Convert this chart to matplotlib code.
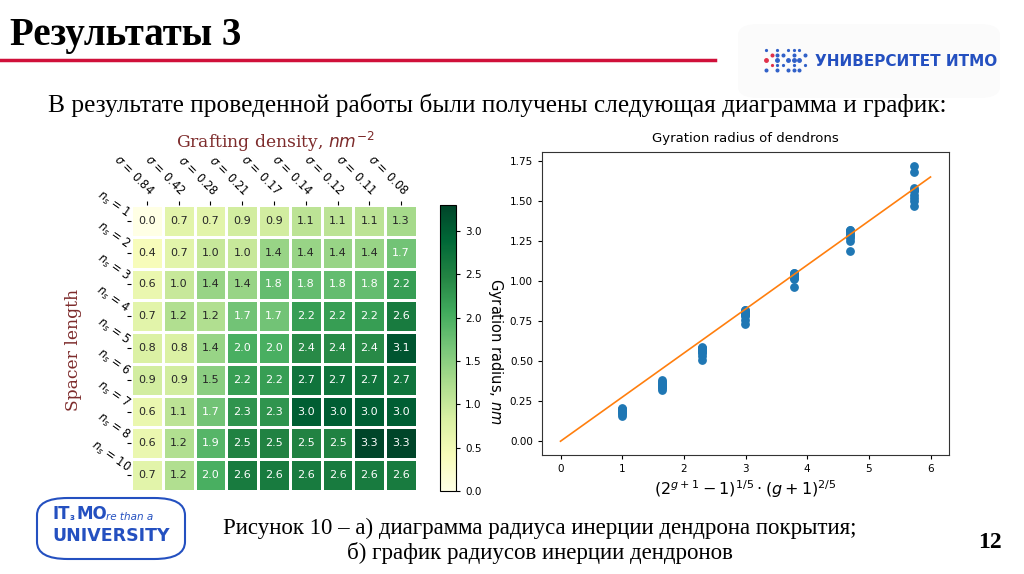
import numpy as np
import matplotlib.pyplot as plt
from matplotlib.patches import FancyBboxPatch
from matplotlib.lines import Line2D

# heatmap data: rows = spacer length, cols = grafting density
sigma_labels = ["0.84", "0.42", "0.28", "0.21", "0.17", "0.14", "0.12", "0.11", "0.08"]
spacer_labels = ["1", "2", "3", "4", "5", "6", "7", "8", "10"]
radius = np.array([
    [0.0, 0.7, 0.7, 0.9, 0.9, 1.1, 1.1, 1.1, 1.3],
    [0.4, 0.7, 1.0, 1.0, 1.4, 1.4, 1.4, 1.4, 1.7],
    [0.6, 1.0, 1.4, 1.4, 1.8, 1.8, 1.8, 1.8, 2.2],
    [0.7, 1.2, 1.2, 1.7, 1.7, 2.2, 2.2, 2.2, 2.6],
    [0.8, 0.8, 1.4, 2.0, 2.0, 2.4, 2.4, 2.4, 3.1],
    [0.9, 0.9, 1.5, 2.2, 2.2, 2.7, 2.7, 2.7, 2.7],
    [0.6, 1.1, 1.7, 2.3, 2.3, 3.0, 3.0, 3.0, 3.0],
    [0.6, 1.2, 1.9, 2.5, 2.5, 2.5, 2.5, 3.3, 3.3],
    [0.7, 1.2, 2.0, 2.6, 2.6, 2.6, 2.6, 2.6, 2.6],
])

# scatter data: one group of points per generation g
gen_x = [1.0, 1.644, 2.290, 2.993, 3.783, 4.695, 5.737]
gen_y = [
    [0.16, 0.17, 0.18, 0.18, 0.19, 0.19, 0.20, 0.20, 0.21],
    [0.32, 0.33, 0.34, 0.35, 0.35, 0.36, 0.37, 0.37, 0.38],
    [0.51, 0.53, 0.55, 0.56, 0.57, 0.57, 0.58, 0.58, 0.59],
    [0.73, 0.76, 0.78, 0.79, 0.80, 0.80, 0.81, 0.82, 0.82],
    [0.96, 1.01, 1.02, 1.03, 1.03, 1.04, 1.04, 1.05, 1.05],
    [1.19, 1.25, 1.27, 1.28, 1.29, 1.30, 1.31, 1.32, 1.32],
    [1.47, 1.50, 1.52, 1.54, 1.56, 1.57, 1.58, 1.68, 1.72],
]
fit_x = [0, 6]
fit_y = [0, 1.65]

W, H = 1024, 574
fig = plt.figure(figsize=(W / 100, H / 100), dpi=100)
fig.patch.set_facecolor("white")


def px(x, y):
    return x / W, 1 - y / H


def box(x0, y0, x1, y1):
    return [x0 / W, 1 - y1 / H, (x1 - x0) / W, (y1 - y0) / H]


serif = ["Liberation Serif", "DejaVu Serif"]
maroon = "#7d2b2b"
itmo_blue = "#2450c0"

# slide header
fig.text(*px(10, 35), "Результаты 3", family=serif, fontweight="bold",
         fontsize=28, va="center", ha="left")
fig.add_artist(Line2D([0, 715 / W], [1 - 60 / H] * 2, color="#d0103a", lw=2.5))
fig.text(*px(497, 105), "В результате проведенной работы были получены следующая диаграмма и график:",
         family=serif, fontsize=18.3, va="center", ha="center")

# top right logo
fig.add_artist(FancyBboxPatch(px(738, 98), 262 / W, 74 / H, boxstyle="round,pad=0,rounding_size=0.02",
                              transform=fig.transFigure, facecolor="#fbfbfb", edgecolor="none"))
for i in range(8):
    for j in range(5):
        if (i + j) % 2 == 0 or i in (2, 5):
            c = "#e0304a" if i < 2 and j in (1, 2, 3) else "#3060c8"
            fig.add_artist(Line2D([(766 + i * 5.5) / W], [1 - (50 + j * 5) / H], marker="o",
                                  markersize=1.3 + 0.6 * (j % 3), color=c, lw=0))
fig.text(*px(815, 61), "УНИВЕРСИТЕТ ИТМО", fontsize=11, fontweight="bold",
         color=itmo_blue, va="center", ha="left")

# heatmap
ax = fig.add_axes(box(131, 205, 417, 491))
mesh = ax.pcolormesh(radius, cmap="YlGn", vmin=0, vmax=3.3, edgecolors="white", linewidth=2)
ax.set_xlim(0, radius.shape[1])
ax.set_ylim(radius.shape[0], 0)
for s in ax.spines.values():
    s.set_visible(False)
for r in range(radius.shape[0]):
    for c in range(radius.shape[1]):
        v = radius[r, c]
        ax.text(c + 0.5, r + 0.5, f"{v:.1f}", ha="center", va="center", fontsize=8,
                color="white" if v >= 1.6 else "#262626")
ax.xaxis.tick_top()
ax.set_xticks(np.arange(len(sigma_labels)) + 0.5)
ax.set_xticklabels([f"$\\sigma$ = {s}" for s in sigma_labels], rotation=-45,
                   ha="right", va="bottom", rotation_mode="anchor", fontsize=8.3)
ax.set_yticks(np.arange(len(spacer_labels)) + 0.5)
ax.set_yticklabels([f"$n_s$ = {n}" for n in spacer_labels], rotation=-35,
                   ha="right", va="bottom", rotation_mode="anchor", fontsize=8.3)
ax.tick_params(length=3, width=0.8, pad=2)
fig.text(*px(275, 142), "Grafting density, $nm^{-2}$", family="DejaVu Serif", color=maroon,
         fontsize=12.3, ha="center", va="center")
fig.text(*px(74, 350), "Spacer length", family="DejaVu Serif", color=maroon,
         fontsize=12.3, ha="center", va="center", rotation=90)

cax = fig.add_axes(box(440, 205, 456, 491))
cb = fig.colorbar(mesh, cax=cax)
cb.set_ticks(np.arange(0, 3.01, 0.5))
cax.tick_params(labelsize=7.5, length=3, width=0.8)
cb.outline.set_linewidth(0.8)
fig.text(*px(496, 351), "Gyration radius, $nm$", fontsize=10.5, rotation=270,
         ha="center", va="center")

# scatter plot
ax2 = fig.add_axes(box(542, 152, 949, 455))
for x, ys in zip(gen_x, gen_y):
    ax2.scatter([x] * len(ys), ys, s=28, color="#1f77b4", zorder=2)
ax2.plot(fit_x, fit_y, color="#ff7f0e", lw=1.2, zorder=3)
ax2.set_xlim(-0.3, 6.3)
ax2.set_ylim(-0.086, 1.806)
ax2.set_yticks(np.arange(0, 1.76, 0.25))
ax2.tick_params(labelsize=7.5, length=3, width=0.8)
for s in ax2.spines.values():
    s.set_linewidth(0.8)
    s.set_color("#333333")
ax2.set_title("Gyration radius of dendrons", fontsize=9.5, pad=7)
ax2.set_xlabel("$(2^{g+1}-1)^{1/5} \\cdot (g+1)^{2/5}$", fontsize=11.5, labelpad=3)

# caption
fig.text(*px(540, 528), "Рисунок 10 – а) диаграмма радиуса инерции дендрона покрытия;",
         family=serif, fontsize=16.5, ha="center", va="center")
fig.text(*px(540, 553), "б) график радиусов инерции дендронов",
         family=serif, fontsize=16.5, ha="center", va="center")
fig.text(*px(990, 543), "12", family=serif, fontsize=17, fontweight="bold",
         ha="center", va="center")

# bottom left logo
fig.add_artist(FancyBboxPatch(px(37, 559), 148 / W, 61 / H,
                              boxstyle="round,pad=0,rounding_size=0.03",
                              transform=fig.transFigure, facecolor="white",
                              edgecolor=itmo_blue, lw=1.5))
fig.text(*px(52, 514), "IT", fontsize=12, fontweight="bold", color=itmo_blue, va="center")
fig.text(*px(70, 518), "з", fontsize=6, fontweight="bold", color=itmo_blue, va="center")
fig.text(*px(76, 514), "MO", fontsize=12, fontweight="bold", color=itmo_blue, va="center")
fig.text(*px(106, 517), "re than a", fontsize=7.5, style="italic", color=itmo_blue, va="center")
fig.text(*px(111, 536), "UNIVERSITY", fontsize=12.5, fontweight="bold", color=itmo_blue,
         va="center", ha="center")

fig.savefig("out.png", dpi=100)
